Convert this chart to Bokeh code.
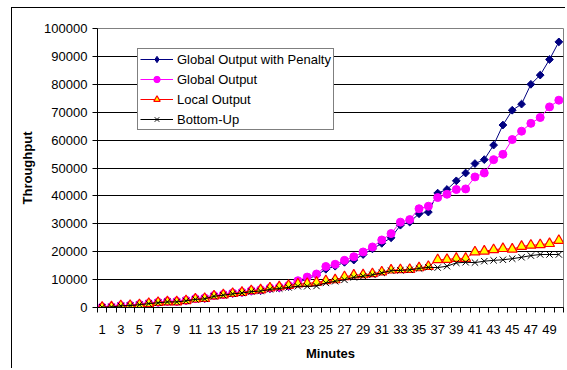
import numpy as np
from bokeh.plotting import figure
from bokeh.models import (FixedTicker, Legend, LegendItem, BasicTickFormatter)
from bokeh.embed import file_html
from bokeh.resources import INLINE

minutes = list(range(1, 51))
penalty = [100, 200, 600, 700, 1000, 1400, 1800, 2000, 2000, 2400,
           3000, 3200, 4100, 4500, 5000, 5300, 5800, 6000, 6700, 7000,
           7500, 9000, 10200, 11500, 13700, 14800, 16200, 17000, 19000, 21000,
           23000, 25000, 29500, 30600, 33600, 34200, 41000, 42300, 45400, 48200,
           51600, 53000, 58200, 65400, 70700, 72900, 80000, 83300, 88900, 95200]
global_out = [200, 300, 700, 800, 1100, 1500, 1900, 2200, 2200, 2600,
              3200, 3400, 4300, 4700, 5200, 5500, 6100, 6400, 7000, 7300,
              7900, 9600, 10900, 12000, 14700, 15500, 16900, 18200, 19900, 21700,
              24200, 26500, 30600, 31500, 35400, 36300, 39400, 40600, 42300, 42500,
              46800, 48200, 53000, 54900, 60200, 63200, 66000, 68100, 71900, 74300]
local_out = [100, 200, 600, 700, 1000, 1400, 1800, 2000, 2000, 2400,
             3000, 3200, 4100, 4500, 5000, 5400, 6000, 6300, 7000, 7400,
             7900, 8400, 8600, 9000, 9600, 9900, 11000, 11600, 11700, 12100,
             12700, 13400, 13500, 13600, 14200, 14700, 17100, 17200, 17600, 17600,
             19900, 20200, 20700, 21100, 20900, 21900, 22300, 22500, 22900, 24000]
bottom_up = [100, 200, 600, 700, 1000, 1400, 1700, 2000, 2000, 2400,
             2900, 3100, 4000, 4400, 4900, 5200, 5700, 5900, 6500, 6800,
             7200, 7600, 7600, 7700, 8800, 9400, 9900, 10800, 11200, 11700,
             12400, 13200, 13300, 13500, 14000, 14400, 14300, 14800, 16000, 16200,
             16100, 16600, 16900, 17100, 17500, 18000, 18600, 19000, 19000, 19000]

y_ticks = list(range(0, 100001, 10000))
x_label_ticks = list(range(1, 50, 2))
x_boundaries = [i + 0.5 for i in range(0, 51)]

FONT = "Liberation Sans"

p = figure(width=554, height=361, output_backend="svg", toolbar_location=None,
           x_range=(0.5, 50.5), y_range=(0, 100000),
           min_border_left=85, min_border_right=3, min_border_top=20,
           min_border_bottom=62, background_fill_color="white",
           border_fill_color="white")
p.margin = (7, 0, 0, 11)
p.styles = {"border-left": "1px solid black", "border-top": "1px solid black"}
p.outline_line_color = "#808080"

p.xgrid.visible = False
p.ygrid.ticker = FixedTicker(ticks=y_ticks)
p.ygrid.grid_line_color = "black"
p.ygrid.grid_line_width = 1

# y axis
p.yaxis.ticker = FixedTicker(ticks=y_ticks)
p.yaxis.formatter = BasicTickFormatter(use_scientific=False)
p.yaxis.major_tick_out = 5
p.yaxis.major_tick_in = 0
p.yaxis.minor_tick_line_color = None
p.yaxis.major_label_standoff = 5
p.yaxis.axis_label = "Throughput"
p.yaxis.axis_label_standoff = 6

# x axis
p.xaxis.ticker = FixedTicker(ticks=x_label_ticks, minor_ticks=x_boundaries)
p.xaxis.major_tick_out = 0
p.xaxis.major_tick_in = 0
p.xaxis.minor_tick_out = 5
p.xaxis.minor_tick_in = 0
p.xaxis.minor_tick_line_color = "black"
p.xaxis.major_label_standoff = 12
p.xaxis.axis_label = "Minutes"
p.xaxis.axis_label_standoff = 9

for ax in (p.xaxis, p.yaxis):
    ax.axis_line_color = "black"
    ax.major_tick_line_color = "black"
    ax.major_label_text_font = FONT
    ax.major_label_text_font_size = "13px"
    ax.major_label_text_color = "black"
    ax.axis_label_text_font = FONT
    ax.axis_label_text_font_size = "13px"
    ax.axis_label_text_font_style = "bold"
    ax.axis_label_text_color = "black"

l1 = p.line(minutes, penalty, line_color="#000080", line_width=1)
s1 = p.scatter(minutes, penalty, marker="square", angle=np.pi / 4, size=5.5,
               fill_color="#000080", line_color="#000080")
# diamond glyph used for the legend entry (sits under the first point)
d1 = p.scatter(minutes[:1], penalty[:1], marker="diamond", size=9,
               fill_color="#000080", line_color="#000080")
l2 = p.line(minutes, global_out, line_color="#FF00FF", line_width=1)
s2 = p.scatter(minutes, global_out, marker="circle", size=8,
               fill_color="#FF00FF", line_color="#FF00FF")
l3 = p.line(minutes, local_out, line_color="#FF0000", line_width=1)
s3 = p.scatter(minutes, local_out, marker="triangle", size=10,
               fill_color="#FFFF00", line_color="#FF0000", line_width=1.2)
l4 = p.line(minutes, bottom_up, line_color="black", line_width=1)
s4 = p.scatter(minutes, bottom_up, marker="x", size=9, line_color="black")

legend = Legend(items=[
    LegendItem(label="Global Output with Penalty", renderers=[l1, d1]),
    LegendItem(label="Global Output", renderers=[l2, s2]),
    LegendItem(label="Local Output", renderers=[l3, s3]),
    LegendItem(label="Bottom-Up", renderers=[l4, s4]),
], location=(40, 177))
legend.label_text_font = FONT
legend.label_text_font_size = "13px"
legend.label_text_color = "black"
legend.glyph_width = 33
legend.glyph_height = 16
legend.label_height = 16
legend.spacing = 4
legend.padding = 2
legend.margin = 0
legend.label_standoff = 4
legend.border_line_color = "black"
legend.border_line_width = 1
legend.background_fill_color = "white"
legend.background_fill_alpha = 1
p.add_layout(legend)

open("out.html", "w").write(file_html(p, INLINE))
